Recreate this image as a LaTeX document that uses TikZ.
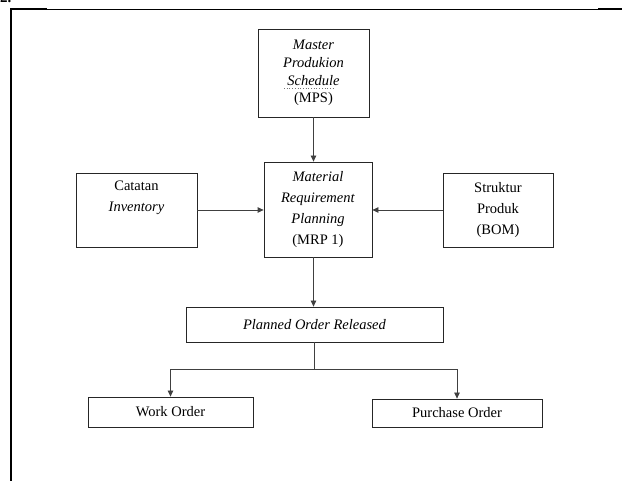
\documentclass[tikz,border=0pt]{standalone}
\usepackage{fontspec}
\setmainfont{Liberation Serif}
\usetikzlibrary{arrows.meta}
\tikzset{
  box/.style={draw=black!85, line width=0.8pt, rectangle, inner sep=0pt, align=center,
    font=\fontsize{14.5}{21}\selectfont},
  conn/.style={draw=black!75, line width=0.8pt},
  arr/.style={conn, -{Triangle[length=6pt,width=5.5pt]}},
  frame/.style={draw=black, line width=1.2pt}
}
\begin{document}
\begin{tikzpicture}[x=1pt,y=-1pt]
\useasboundingbox (0,0) rectangle (622,481);
\fill[white] (0,0) rectangle (622,481);
% cut-off heading
\node[anchor=base west, inner sep=0pt, font=\fontsize{15}{18}\selectfont\bfseries] (hd) at (0,3) {2.};
% frame
\coordinate (ftl) at (11,9.5);
\coordinate (ftr) at (622,9.5);
\coordinate (fbl) at (11,481);
\draw[frame] (ftr) -- (ftl) -- (fbl);
\draw[draw=black, line width=2pt] (10,9.5) -- (47,9.5);
\draw[draw=black, line width=2pt] (598,9.5) -- (622,9.5);
\draw[draw=black, line width=2.2pt] (11,9.5) -- (fbl);
% boxes
\node[box, minimum width=111pt, minimum height=88pt, font=\fontsize{14.5}{17.7}\selectfont] (mps) at (313.5,73)
  {\textit{Master}\\ \textit{Produkion}\\ \textit{Schedule}\\ (MPS)};
\draw[black!55, line width=0.7pt, dotted] (284,88) -- (334,88);
\node[box, minimum width=108pt, minimum height=95pt] (mrp) at (318,209.5)
  {\textit{Material}\\ \textit{Requirement}\\ \textit{Planning}\\ (MRP 1)};
\node[box, minimum width=121pt, minimum height=74pt] (cat) at (136.5,210)
  {Catatan\\ \textit{Inventory}\\ \strut};
\node[box, minimum width=110pt, minimum height=74pt] (bom) at (498,210)
  {Struktur\\ Produk\\ (BOM)};
\node[box, minimum width=257pt, minimum height=35pt] (plan) at (314.5,324.5)
  {\textit{Planned Order Released}};
\node[box, minimum width=165pt, minimum height=30pt] (work) at (170.5,412)
  {Work Order};
\node[box, minimum width=170pt, minimum height=28pt] (purch) at (457,413)
  {Purchase Order};
% connectors
\draw[arr] (mps.south) -- (mps.south |- mrp.north);
\draw[arr] (cat.east) -- (cat.east -| mrp.west);
\draw[arr] (bom.west) -- (bom.west -| mrp.east);
\draw[arr] (mps.south |- mrp.south) -- (mps.south |- plan.north);
\coordinate (split) at (314.5,369);
\draw[conn] (plan.south) -- (split);
\draw[arr] (split) -| (work.north);
\draw[arr] (split) -| (purch.north);
\end{tikzpicture}
\end{document}
